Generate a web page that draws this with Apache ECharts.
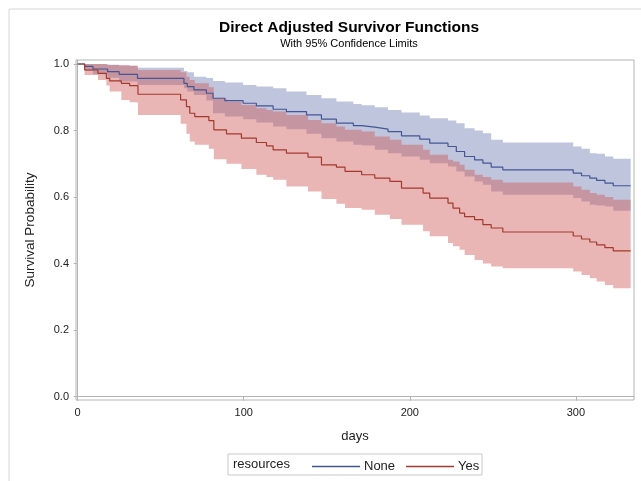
<!DOCTYPE html>
<html>
<head>
<meta charset="utf-8">
<script src="https://cdn.jsdelivr.net/npm/echarts@6/dist/echarts.min.js"></script>
<style>
  html, body { margin: 0; padding: 0; background: #fff; }
  #chart { width: 641px; height: 481px; }
</style>
</head>
<body>
<div id="chart"></div>
<script>
// step times (days) and estimates for each group
const endDay = 333

const noneDays  = [0, 4.2, 9.2, 18, 25, 36, 64, 66, 70, 77.5, 81.5, 88.6, 99.6, 107.6, 117.7, 125.7, 137.8, 146.8, 155.8, 166, 171, 178.9, 186.9, 195, 206, 212, 223, 228, 233, 239, 244, 249, 256, 298.4, 303.4, 308.4, 312.5, 317.5, 322.5]
const noneSurv  = [1.0, 0.993, 0.985, 0.977, 0.969, 0.957, 0.942, 0.932, 0.922, 0.912, 0.897, 0.89, 0.882, 0.874, 0.864, 0.857, 0.847, 0.834, 0.822, 0.815, 0.81, 0.804, 0.797, 0.784, 0.774, 0.762, 0.752, 0.737, 0.722, 0.712, 0.702, 0.69, 0.682, 0.672, 0.664, 0.657, 0.65, 0.642, 0.634]
const noneLower = [1.0, 0.979, 0.969, 0.959, 0.947, 0.937, 0.927, 0.917, 0.907, 0.89, 0.852, 0.842, 0.834, 0.824, 0.812, 0.804, 0.79, 0.777, 0.767, 0.757, 0.755, 0.742, 0.732, 0.722, 0.712, 0.702, 0.692, 0.677, 0.662, 0.647, 0.637, 0.617, 0.607, 0.597, 0.587, 0.577, 0.575, 0.572, 0.559]
const noneUpper = [1.0, 1.0, 1.0, 0.998, 0.995, 0.989, 0.979, 0.975, 0.962, 0.958, 0.949, 0.944, 0.937, 0.932, 0.927, 0.917, 0.907, 0.897, 0.887, 0.88, 0.876, 0.87, 0.862, 0.854, 0.845, 0.837, 0.83, 0.822, 0.807, 0.8, 0.792, 0.772, 0.764, 0.752, 0.745, 0.732, 0.73, 0.722, 0.715]

const yesDays  = [0, 4.2, 12.2, 17.3, 19.3, 26.3, 31.3, 36.3, 62, 65.5, 67.5, 70.5, 79, 82, 89.6, 98.6, 107.6, 113.7, 117.7, 125.7, 138.7, 146.8, 155.8, 161, 171, 178.9, 188, 195, 208, 212, 223, 226, 230, 233, 239, 244, 249, 256, 298.4, 303.4, 308.4, 312.5, 317.5, 322.5]
const yesSurv  = [1.0, 0.982, 0.972, 0.957, 0.949, 0.942, 0.935, 0.909, 0.892, 0.872, 0.852, 0.842, 0.83, 0.802, 0.79, 0.777, 0.764, 0.754, 0.742, 0.732, 0.72, 0.697, 0.69, 0.677, 0.667, 0.657, 0.647, 0.627, 0.612, 0.597, 0.582, 0.567, 0.552, 0.541, 0.532, 0.517, 0.507, 0.495, 0.483, 0.474, 0.465, 0.456, 0.448, 0.438]
const yesLower = [1.0, 0.967, 0.952, 0.935, 0.917, 0.892, 0.885, 0.847, 0.82, 0.79, 0.767, 0.757, 0.745, 0.714, 0.70, 0.684, 0.667, 0.66, 0.652, 0.632, 0.617, 0.594, 0.58, 0.567, 0.562, 0.547, 0.534, 0.517, 0.497, 0.482, 0.462, 0.452, 0.442, 0.426, 0.411, 0.40, 0.391, 0.386, 0.376, 0.366, 0.356, 0.346, 0.336, 0.326]
const yesUpper = [1.0, 1.0, 1.0, 0.998, 0.997, 0.997, 0.995, 0.982, 0.975, 0.962, 0.952, 0.942, 0.93, 0.897, 0.887, 0.877, 0.867, 0.862, 0.857, 0.847, 0.832, 0.822, 0.812, 0.802, 0.797, 0.782, 0.772, 0.757, 0.742, 0.727, 0.712, 0.707, 0.697, 0.682, 0.667, 0.66, 0.652, 0.644, 0.632, 0.622, 0.612, 0.607, 0.6, 0.592]

const xTicks = [0, 100, 200, 300]
const yTicks = [0, 0.2, 0.4, 0.6, 0.8, 1.0]

const font = 'Liberation Sans, Arial, sans-serif'

// pairs for a step line, held to endDay
const stepLine = (days, vals) => {
  const pts = days.map((d, i) => [d, vals[i]])
  pts.push([endDay, vals[vals.length - 1]])
  return pts
}

// band polygon drawn through the axes
const bandSeries = (days, lower, upper, color) => ({
  type: 'custom',
  silent: true,
  data: [[0, 0]],
  encode: { x: 0, y: 1 },
  z: 1,
  renderItem: (params, api) => {
    const pts = []
    const n = days.length
    for (let i = 0; i < n; i++) {
      const next = i + 1 < n ? days[i + 1] : endDay
      pts.push(api.coord([days[i], upper[i]]), api.coord([next, upper[i]]))
    }
    for (let i = n - 1; i >= 0; i--) {
      const next = i + 1 < n ? days[i + 1] : endDay
      pts.push(api.coord([next, lower[i]]), api.coord([days[i], lower[i]]))
    }
    return { type: 'polygon', shape: { points: pts }, style: { fill: color, opacity: 0.45 } }
  }
})

const chart = echarts.init(document.getElementById('chart'))

chart.setOption({
  animation: false,
  textStyle: { fontFamily: font },
  graphic: [
    { type: 'rect', shape: { x: 9, y: 9, width: 700, height: 600 }, style: { fill: 'none', stroke: '#d6d6d6', lineWidth: 1 }, silent: true },
    { type: 'text', x: 349, y: 28, style: { text: 'Direct Adjusted Survivor Functions', font: 'bold 15.5px ' + font, fill: '#000', textAlign: 'center', textVerticalAlign: 'middle' } },
    { type: 'text', x: 349, y: 44, style: { text: 'With 95% Confidence Limits', font: '11px ' + font, fill: '#000', textAlign: 'center', textVerticalAlign: 'middle' } },
    { type: 'rect', shape: { x: 228, y: 454, width: 254, height: 21 }, style: { fill: 'none', stroke: '#c8c8c8', lineWidth: 1 }, silent: true },
    { type: 'text', x: 233, y: 464.5, style: { text: 'resources', font: '13px ' + font, fill: '#222', textVerticalAlign: 'middle' } }
  ],
  legend: {
    data: [
      { name: 'None', icon: 'rect' },
      { name: 'Yes', icon: 'rect' }
    ],
    left: 307,
    top: 455,
    itemWidth: 48,
    itemHeight: 1.5,
    itemGap: 11,
    textStyle: { fontSize: 13, color: '#222', fontFamily: font, padding: [0, 0, 0, -1] }
  },
  grid: { left: 76, right: 7, top: 60, bottom: 81, show: true, borderColor: '#b4b4b4', borderWidth: 1 },
  xAxis: {
    type: 'value',
    min: -1,
    max: 335,
    name: 'days',
    nameLocation: 'middle',
    nameGap: 30,
    nameTextStyle: { fontSize: 13, color: '#222', fontFamily: font },
    axisLine: { show: true, lineStyle: { color: '#b4b4b4' } },
    axisTick: { show: true, length: 4, customValues: xTicks, lineStyle: { color: '#b4b4b4' } },
    axisLabel: { customValues: xTicks, fontSize: 11, color: '#222', margin: 7 },
    splitLine: { show: false }
  },
  yAxis: {
    type: 'value',
    min: -0.01,
    max: 1.012,
    name: 'Survival Probability',
    nameLocation: 'middle',
    nameGap: 39,
    nameTextStyle: { fontSize: 13.5, color: '#222', fontFamily: font },
    axisLine: { show: true, lineStyle: { color: '#b4b4b4' } },
    axisTick: { show: true, length: 4, customValues: yTicks, lineStyle: { color: '#b4b4b4' } },
    axisLabel: { customValues: yTicks, fontSize: 11, color: '#222', margin: 7, formatter: v => v.toFixed(1) },
    splitLine: { show: false }
  },
  series: [
    bandSeries(noneDays, noneLower, noneUpper, '#6F7EB3'),
    bandSeries(yesDays, yesLower, yesUpper, '#D05B5B'),
    {
      name: 'None', type: 'line', step: 'end', showSymbol: false, symbol: 'none', z: 3,
      data: stepLine(noneDays, noneSurv),
      lineStyle: { color: '#445694', width: 1.2 }, itemStyle: { color: '#445694' }
    },
    {
      name: 'Yes', type: 'line', step: 'end', showSymbol: false, symbol: 'none', z: 3,
      data: stepLine(yesDays, yesSurv),
      lineStyle: { color: '#A23A2E', width: 1.2 }, itemStyle: { color: '#A23A2E' }
    }
  ]
})

window.addEventListener('resize', () => chart.resize())
</script>
</body>
</html>
